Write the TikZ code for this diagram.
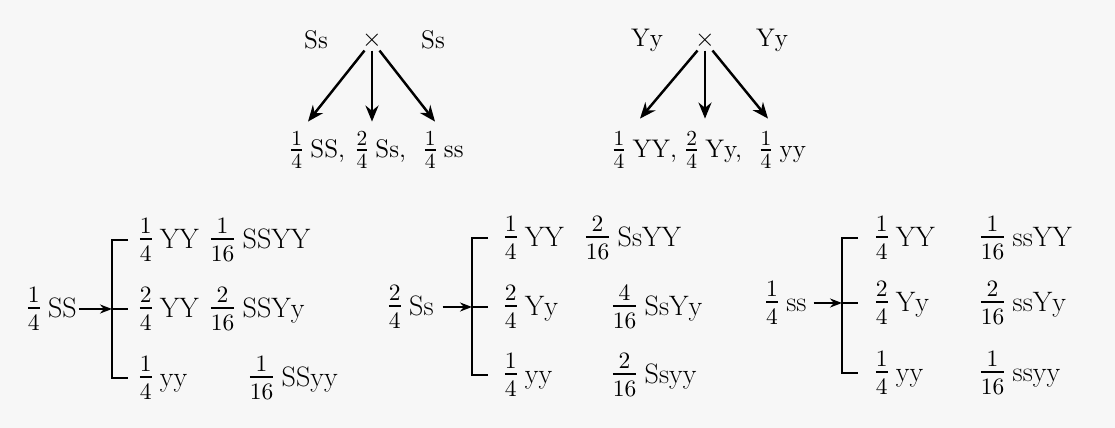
\documentclass[tikz,border=0pt]{standalone}
\usepackage{amsmath}
\usetikzlibrary{arrows.meta, positioning}

\newcommand{\fr}[2]{\scalebox{1.22}{$\frac{#1}{#2}$}\kern-1.5pt\relax}

\begin{document}
\begin{tikzpicture}[
    x=0.02cm, y=-0.02cm,
    every node/.style={font=\fontsize{16}{19}\selectfont, inner sep=1pt},
    top/.style={font=\fontsize{14.5}{17}\selectfont},
    lbl/.style={anchor=west, inner sep=0.5pt},
    arr/.style={-{Stealth[length=3.2mm, width=2.6mm]}, line width=1.4pt},
    sarr/.style={-{Stealth[length=2.4mm, width=1.8mm]}, line width=1.2pt},
    brk/.style={line width=1.2pt},
]

\fill[black!3] (0,0) rectangle (1115,428);
\useasboundingbox (0,0) rectangle (1115,428);

% cross S
\node[top] (ssL) at (316,40) {Ss};
\node[top] (crossS) at (372,40) {$\times$};
\node[top] (ssR) at (433,40) {Ss};
\node[top] (kS1) at (317,150) {\fr14 SS,};
\node[top] (kS2) at (380,150) {\fr24 Ss,};
\node[top] (kS3) at (443,150) {\fr14 ss};

\draw[arr] ([xshift=-0.15cm]crossS.south) -- ([xshift=-0.18cm, yshift=0.16cm]kS1.north);
\draw[arr] (crossS.south) -- ([yshift=0.16cm]crossS.south |- kS2.north);
\draw[arr] ([xshift=0.15cm]crossS.south) -- ([xshift=-0.16cm, yshift=0.16cm]kS3.north);

% cross Y
\node[top] (yyL) at (647,40) {Yy};
\node[top] (crossY) at (705,40) {$\times$};
\node[top] (yyR) at (772,40) {Yy};
\node[top] (kY1) at (644,150) {\fr14 YY,};
\node[top] (kY2) at (713,150) {\fr24 Yy,};
\node[top] (kY3) at (782,150) {\fr14 yy};

\draw[arr] ([xshift=-0.15cm]crossY.south) -- ([xshift=-0.08cm, yshift=0.22cm]kY1.north);
\draw[arr] (crossY.south) -- ([yshift=0.22cm]crossY.south |- kY2.north);
\draw[arr] ([xshift=0.15cm]crossY.south) -- ([xshift=-0.28cm, yshift=0.22cm]kY3.north);

% SS branch
\node (parA) at (51,309) {\fr14 SS};
\coordinate (brA) at (112,309);
\node[lbl] (yA1) at (136,240) {\fr14 YY};
\node[lbl] (yA2) at (136,309) {\fr24 YY};
\node[lbl] (yA3) at (136,378) {\fr14 yy};
\node[lbl] (gA1) at (207,240) {\fr1{16} SSYY};
\node[lbl] (gA2) at (207,309) {\fr2{16} SSYy};
\node[lbl] (gA3) at (246,378) {\fr1{16} SSyy};
\draw[brk, shorten <=0.16cm, shorten >=0.16cm] (yA1.west) -| (brA) |- (yA3.west);
\draw[brk, shorten >=0.16cm] (brA) -- (yA2.west);
\draw[sarr] (parA) -- (brA);

% Ss branch
\node (parB) at (410,307) {\fr24 Ss};
\coordinate (brB) at (472,307);
\node[lbl] (yB1) at (501,238) {\fr14 YY};
\node[lbl] (yB2) at (501,307) {\fr24 Yy};
\node[lbl] (yB3) at (501,375) {\fr14 yy};
\node[lbl] (gB1) at (582,238) {\fr2{16} SsYY};
\node[lbl] (gB2) at (609,307) {\fr4{16} SsYy};
\node[lbl] (gB3) at (609,375) {\fr2{16} Ssyy};
\draw[brk, shorten <=0.26cm, shorten >=0.26cm] (yB1.west) -| (brB) |- (yB3.west);
\draw[brk, shorten >=0.26cm] (brB) -- (yB2.west);
\draw[sarr] ([xshift=0.14cm]parB.east) -- (brB);

% ss branch
\node (parC) at (785,303) {\fr14 ss};
\coordinate (brC) at (842,303);
\node[lbl] (yC1) at (872,238) {\fr14 YY};
\node[lbl] (yC2) at (872,303) {\fr24 Yy};
\node[lbl] (yC3) at (872,373) {\fr14 yy};
\node[lbl] (gC1) at (977,238) {\fr1{16} ssYY};
\node[lbl] (gC2) at (977,303) {\fr2{16} ssYy};
\node[lbl] (gC3) at (977,373) {\fr1{16} ssyy};
\draw[brk, shorten <=0.28cm, shorten >=0.28cm] (yC1.west) -| (brC) |- (yC3.west);
\draw[brk, shorten >=0.28cm] (brC) -- (yC2.west);
\draw[sarr] ([xshift=0.1cm]parC.east) -- (brC);

\end{tikzpicture}
\end{document}
